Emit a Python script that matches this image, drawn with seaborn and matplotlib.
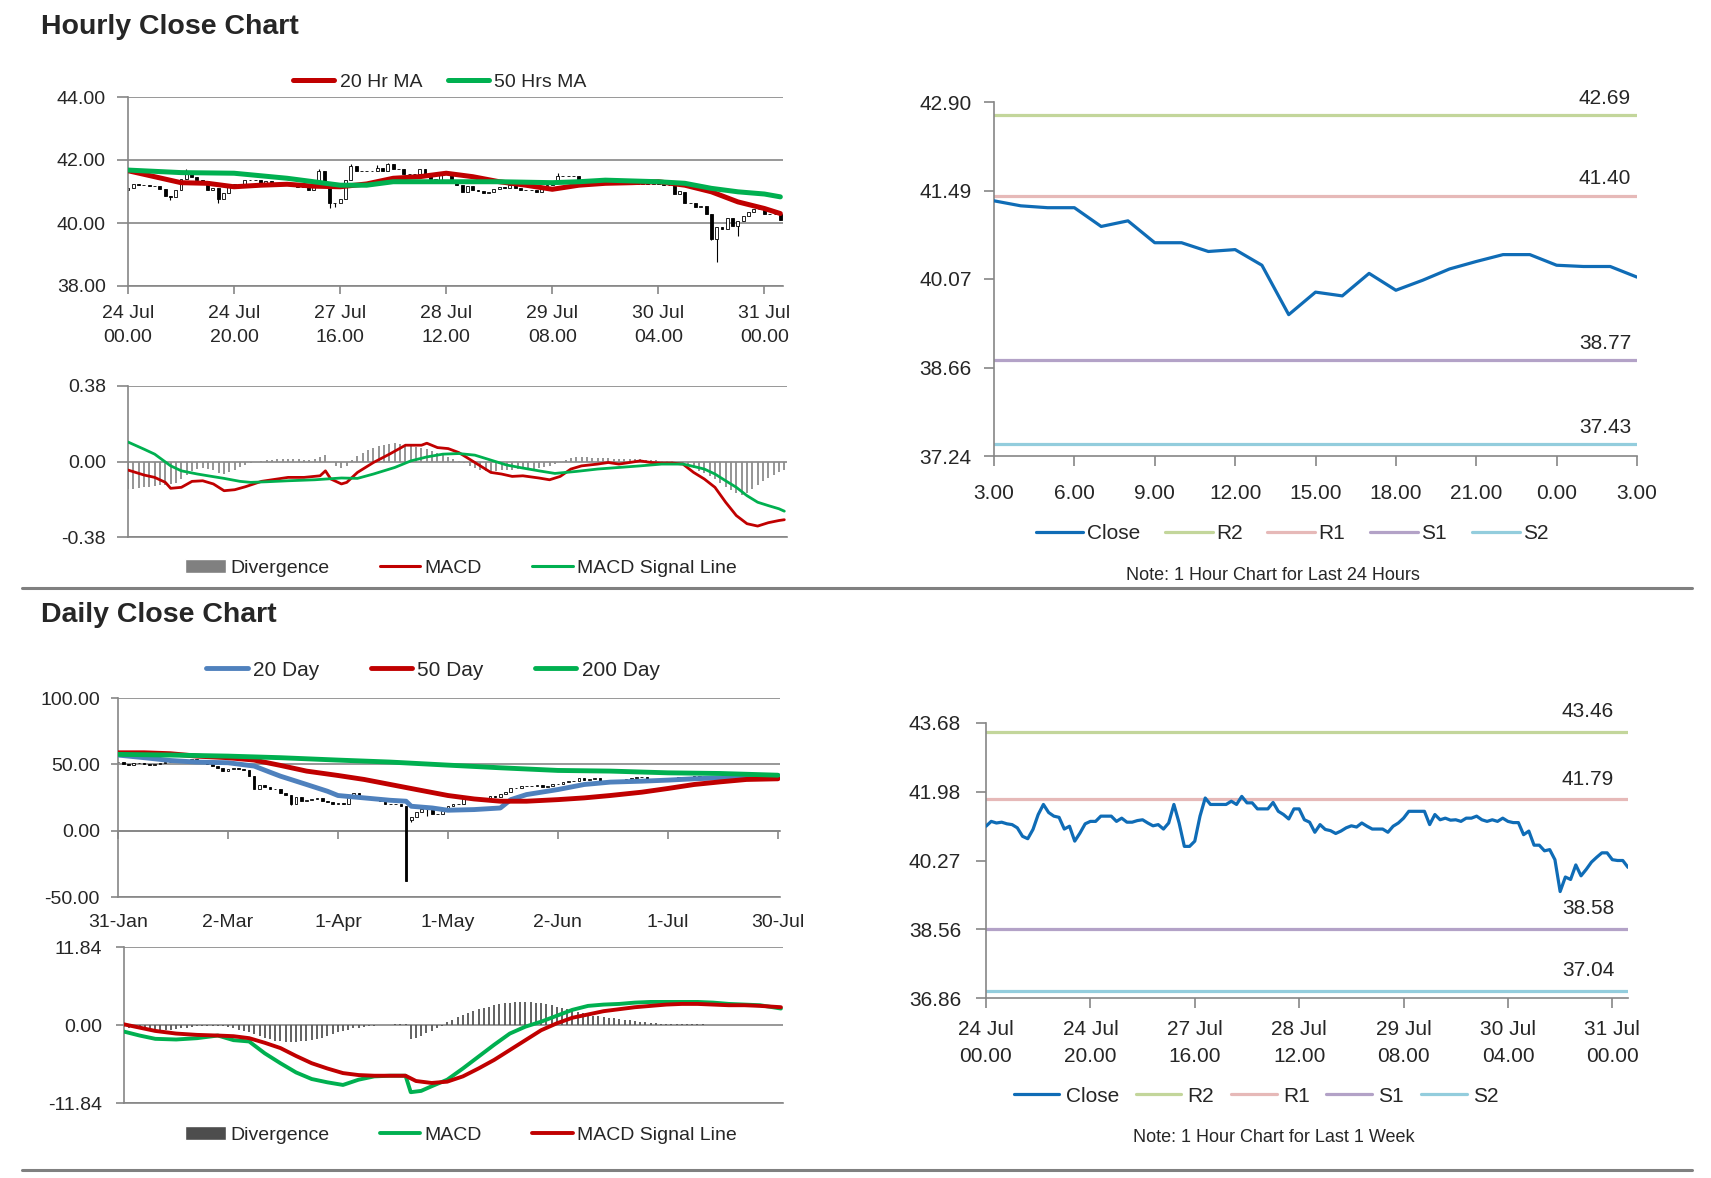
import numpy as np
import seaborn as sns
import matplotlib
matplotlib.use('Agg')
from matplotlib import pyplot as plt
from matplotlib.lines import Line2D
from matplotlib.patches import Patch

# ---- hourly data: 24 Jul 00.00 .. 31 Jul 03.00 (one point per hour, weekend skipped)
hourly_close = [
    41.12, 41.24, 41.20, 41.22, 41.18, 41.16, 41.08, 40.87, 40.81, 41.04,
    41.41, 41.66, 41.46, 41.37, 41.34, 41.05, 41.12, 40.75, 40.95, 41.18,
    41.24, 41.24, 41.37, 41.37, 41.37, 41.24, 41.32, 41.22, 41.22, 41.26,
    41.28, 41.20, 41.13, 41.16, 41.05, 41.20, 41.66, 41.20, 40.62, 40.62,
    40.75, 41.37, 41.82, 41.66, 41.66, 41.66, 41.66, 41.74, 41.66, 41.86,
    41.70, 41.70, 41.55, 41.55, 41.55, 41.71, 41.49, 41.41, 41.30, 41.55,
    41.55, 41.28, 41.22, 40.97, 41.16, 41.04, 41.01, 40.94, 41.00, 41.08,
    41.13, 41.10, 41.20, 41.12, 41.05, 41.05, 41.05, 40.97, 41.12, 41.20,
    41.32, 41.49, 41.49, 41.49, 41.49, 41.16, 41.41, 41.28, 41.32, 41.27,
    41.28, 41.24, 41.32, 41.32, 41.37, 41.28, 41.24, 41.28, 41.24,
    41.32, 41.24, 41.21, 41.21, 40.91, 41.00, 40.65, 40.65, 40.51, 40.54,
    40.29, 39.50, 39.86, 39.80, 40.16, 39.89, 40.05, 40.23, 40.35, 40.46,
    40.46, 40.29, 40.27, 40.27, 40.10]
hourly_first_open = 41.05
hourly_low_wicks = {8: 40.72, 17: 40.62, 38: 40.47, 39: 40.50, 110: 39.45, 111: 38.75, 115: 39.60}
hourly_high_wicks = {11: 41.72, 36: 41.72, 42: 41.86, 47: 41.85, 49: 41.92, 81: 41.58}
hourly_ticks = [0, 20, 40, 60, 80, 100, 120]
hourly_tick_labels = ['24 Jul\n00.00', '24 Jul\n20.00', '27 Jul\n16.00', '28 Jul\n12.00',
                      '29 Jul\n08.00', '30 Jul\n04.00', '31 Jul\n00.00']

ma20_hr_x = [0, 5, 10, 15, 20, 25, 30, 35, 40, 45, 50, 55, 60, 65, 70, 75, 80, 85, 90, 95,
             100, 105, 110, 115, 120, 123]
ma20_hr = [41.66, 41.47, 41.28, 41.26, 41.15, 41.20, 41.23, 41.17, 41.15, 41.24, 41.42, 41.47,
           41.58, 41.47, 41.31, 41.20, 41.07, 41.20, 41.26, 41.28, 41.31, 41.20, 40.99, 40.67,
           40.46, 40.30]
ma50_hr_x = [0, 10, 20, 30, 40, 45, 50, 60, 70, 80, 85, 90, 100, 105, 110, 115, 120, 123]
ma50_hr = [41.68, 41.60, 41.58, 41.42, 41.20, 41.20, 41.31, 41.31, 41.31, 41.28, 41.31, 41.36,
           41.31, 41.26, 41.10, 40.99, 40.92, 40.83]

macd_hr_x = [0, 3, 5, 7, 8, 10, 12, 14, 16, 18, 20, 22, 25, 28, 30, 33, 36, 37, 38, 40, 41, 43,
             46, 49, 52, 55, 56, 58, 60, 62, 65, 68, 70, 72, 74, 77, 79, 81, 83, 85, 88, 90, 92,
             94, 96, 98, 100, 102, 104, 106, 108, 110, 112, 114, 116, 118, 120, 122, 123]
macd_hr = [-0.043, -0.068, -0.08, -0.105, -0.135, -0.13, -0.10, -0.097, -0.113, -0.147,
           -0.142, -0.127, -0.10, -0.088, -0.08, -0.08, -0.072, -0.047, -0.088, -0.113,
           -0.105, -0.055, -0.005, 0.037, 0.082, 0.082, 0.092, 0.07, 0.065, 0.045,
           -0.005, -0.055, -0.063, -0.075, -0.072, -0.083, -0.092, -0.075, -0.038, -0.022,
           -0.013, -0.005, -0.013, -0.005, 0.003, -0.005, -0.008, -0.008, -0.013, -0.055,
           -0.088, -0.13, -0.205, -0.272, -0.313, -0.325, -0.308, -0.297, -0.293]
signal_hr_x = [0, 3, 5, 8, 10, 13, 15, 18, 21, 23, 26, 30, 35, 40, 43, 46, 50, 53, 56, 59, 62,
               65, 68, 71, 74, 77, 80, 84, 88, 92, 96, 100, 104, 106, 108, 110, 112, 114, 116,
               118, 120, 122, 123]
signal_hr = [0.098, 0.062, 0.037, -0.022, -0.047, -0.063, -0.072, -0.085, -0.10, -0.105,
             -0.102, -0.097, -0.092, -0.083, -0.085, -0.063, -0.03, 0.003, 0.023, 0.037,
             0.04, 0.032, 0.007, -0.018, -0.033, -0.047, -0.06, -0.05, -0.038, -0.03,
             -0.022, -0.013, -0.013, -0.025, -0.038, -0.063, -0.097, -0.13, -0.172, -0.205,
             -0.222, -0.238, -0.25]
div_hr = [
    -0.14, -0.14, -0.135, -0.13, -0.13, -0.125, -0.12, -0.12, -0.115, -0.11,
    -0.09, -0.07, -0.05, -0.04, -0.035, -0.04, -0.045, -0.06, -0.065, -0.055,
    -0.045, -0.03, -0.02, -0.01, 0.0, 0.005, 0.01, 0.01, 0.012, 0.012,
    0.015, 0.015, 0.012, 0.01, 0.01, 0.015, 0.025, 0.035, 0.0, -0.025,
    -0.035, -0.025, 0.01, 0.03, 0.045, 0.06, 0.07, 0.08, 0.085, 0.09,
    0.095, 0.09, 0.085, 0.08, 0.075, 0.07, 0.065, 0.055, 0.045, 0.035,
    0.025, 0.015, 0.005, -0.01, -0.025, -0.035, -0.045, -0.05, -0.055, -0.05,
    -0.045, -0.045, -0.045, -0.04, -0.04, -0.04, -0.04, -0.035, -0.03, -0.025,
    -0.015, 0.0, 0.01, 0.02, 0.025, 0.025, 0.025, 0.02, 0.02, 0.02,
    0.02, 0.015, 0.015, 0.015, 0.015, 0.015, 0.015, 0.01, 0.01, 0.01,
    0.005, 0.005, 0.005, 0.0, -0.01, -0.02, -0.035, -0.05, -0.06, -0.075,
    -0.09, -0.11, -0.13, -0.145, -0.16, -0.17, -0.16, -0.14, -0.12, -0.10,
    -0.085, -0.07, -0.055, -0.045]

# ---- last 24 hours (30 Jul 03.00 .. 31 Jul 03.00) and pivot levels
day_tick_labels = ['3.00', '6.00', '9.00', '12.00', '15.00', '18.00', '21.00', '0.00', '3.00']
level_names = ['R2', 'R1', 'S1', 'S2']
levels_24h = [42.69, 41.40, 38.77, 37.43]
levels_week = [43.46, 41.79, 38.58, 37.04]
yticks_24h = ['37.24', '38.66', '40.07', '41.49', '42.90']
yticks_week = ['36.86', '38.56', '40.27', '41.98', '43.68']

# ---- daily data: 31 Jan .. 30 Jul
daily_close = [
    51.6, 50.1, 49.6, 50.8, 50.9, 50.3, 49.6, 50.0, 51.2, 51.4, 52.1, 52.1, 52.1, 53.3, 53.8,
    53.4, 51.4, 49.9, 48.7, 47.1, 45.3,
    46.8, 47.2, 46.8, 45.9, 41.3, 31.1, 34.4, 33.0, 31.5, 31.7, 28.7, 27.0, 20.4, 25.2, 22.4,
    23.4, 24.0, 24.5, 22.6, 21.5, 20.1, 20.5,
    20.3, 25.3, 28.3, 26.1, 23.6, 25.1, 22.8, 22.4, 20.1, 19.9, 19.9, 18.3, -37.6, 10.0, 13.8,
    16.5, 17.0, 12.8, 12.3, 15.1, 18.8,
    19.8, 20.4, 24.6, 24.0, 24.0, 24.7, 24.1, 25.8, 25.3, 27.6, 29.4, 31.8, 32.5, 33.5, 33.9,
    33.3, 34.4, 32.8, 33.7, 35.5,
    35.4, 36.8, 37.3, 37.4, 39.6, 38.2, 38.9, 39.6, 36.3, 36.3, 37.1, 38.4, 38.0, 38.8, 39.8,
    40.5, 40.4, 38.0, 38.7, 38.5, 39.7, 39.3,
    39.8, 40.7, 40.6, 40.6, 40.9, 39.6, 40.6, 40.1, 40.3, 41.0, 40.8, 40.6, 40.8, 41.9, 41.9,
    41.1, 41.3, 41.6, 41.0, 41.3, 39.9]
daily_first_open = 52.0
daily_open_fix = {56: 8.0}
daily_low_wicks = {56: 6.5, 59: 11.0, 33: 19.5}
daily_high_wicks = {}
daily_ticks = [0, 21, 42, 63, 84, 105, 126]
daily_tick_labels = ['31-Jan', '2-Mar', '1-Apr', '1-May', '2-Jun', '1-Jul', '30-Jul']

ma20_day_x = [0, 5, 10, 15, 21, 26, 29, 31, 36, 40, 42, 47, 52, 55, 56, 60, 63, 68, 73, 75, 78,
              84, 89, 94, 100, 105, 110, 115, 120, 126]
ma20_day = [57.0, 55.0, 52.9, 51.7, 51.2, 48.7, 44.1, 41.1, 34.8, 29.7, 26.5, 24.7, 22.9, 22.2,
            18.4, 17.1, 15.4, 15.9, 17.1, 23.4, 27.2, 31.0, 34.8, 36.6, 37.3, 38.1, 39.1, 39.8,
            41.1, 41.6]
ma50_day_x = [0, 5, 10, 15, 21, 26, 31, 36, 42, 47, 52, 57, 63, 68, 73, 78, 84, 89, 94, 100,
              105, 110, 115, 120, 126]
ma50_day = [58.7, 58.7, 58.0, 56.2, 55.0, 53.2, 49.2, 44.9, 41.6, 38.6, 34.8, 31.0, 26.5, 23.9,
            22.2, 22.2, 23.4, 24.7, 26.5, 29.0, 31.8, 34.8, 36.8, 38.6, 39.1]
ma200_day_x = [0, 10, 21, 31, 42, 52, 63, 73, 84, 94, 105, 115, 126]
ma200_day = [57.5, 57.0, 56.2, 55.0, 53.2, 51.7, 49.4, 47.4, 45.4, 44.9, 43.6, 43.1, 41.8]

macd_day_x = [0, 3, 6, 10, 14, 18, 21, 24, 27, 30, 33, 36, 39, 42, 45, 48, 51, 54, 55, 57, 59,
              62, 65, 68, 71, 74, 77, 80, 83, 86, 89, 92, 95, 98, 101, 104, 107, 110, 113, 116,
              119, 122, 126]
macd_day = [-1.0, -1.6, -2.1, -2.2, -2.0, -1.6, -2.3, -2.5, -4.3, -5.8, -7.2, -8.2, -8.7, -9.1,
            -8.3, -7.8, -7.7, -7.7, -10.2, -10.0, -9.3, -8.3, -6.6, -4.8, -3.0, -1.3, -0.25,
            0.5, 1.4, 2.3, 2.9, 3.1, 3.2, 3.4, 3.5, 3.5, 3.5, 3.5, 3.4, 3.2, 3.1, 3.0, 2.5]
signal_day_x = [0, 3, 6, 10, 14, 18, 21, 24, 27, 30, 33, 36, 39, 42, 45, 48, 51, 54, 56, 59, 62,
                65, 68, 71, 74, 77, 80, 83, 86, 89, 92, 95, 98, 101, 104, 107, 110, 113, 116,
                119, 122, 126]
signal_day = [0.1, -0.4, -0.9, -1.3, -1.5, -1.6, -1.7, -2.0, -2.7, -3.5, -4.7, -5.8, -6.6, -7.3,
              -7.6, -7.7, -7.7, -7.7, -8.5, -8.8, -8.6, -7.8, -6.6, -5.3, -3.8, -2.3, -0.8,
              0.25, 1.1, 1.6, 2.1, 2.4, 2.7, 2.9, 3.1, 3.2, 3.2, 3.1, 3.0, 3.0, 2.9, 2.7]
div_day = [
    -0.3, -0.4, -0.5, -0.6, -0.7, -0.8, -0.8, -0.8, -0.8, -0.7,
    -0.6, -0.5, -0.4, -0.3, -0.2, -0.1, -0.1, -0.1, -0.1, -0.2,
    -0.3, -0.5, -0.7, -0.9, -1.1, -1.4, -1.7, -2.0, -2.2, -2.4,
    -2.5, -2.6, -2.6, -2.6, -2.5, -2.4, -2.3, -2.1, -1.9, -1.6,
    -1.4, -1.1, -0.9, -0.7, -0.5, -0.4, -0.3, -0.2, -0.1, -0.05,
    0.0, 0.05, 0.1, 0.15, 0.2, -2.2, -1.9, -1.6, -1.2, -0.9,
    -0.5, -0.2, 0.4, 0.8, 1.2, 1.5, 1.8, 2.1, 2.4, 2.6,
    2.8, 3.0, 3.2, 3.3, 3.4, 3.5, 3.5, 3.5, 3.5, 3.4,
    3.3, 3.2, 3.0, 2.8, 2.6, 2.4, 2.2, 2.0, 1.8, 1.6,
    1.4, 1.3, 1.2, 1.1, 1.0, 0.9, 0.8, 0.7, 0.6, 0.5,
    0.4, 0.3, 0.3, 0.2, 0.2, 0.2, 0.15, 0.1, 0.1, 0.1,
    0.1, 0.1, 0.05, 0.05, 0.0, -0.05, -0.05, -0.05, -0.05, -0.05,
    -0.05, -0.05, -0.05, -0.05, -0.05, -0.05, -0.05]

RED = '#C00000'
GREEN = '#00B050'
BLUE20 = '#4F81BD'
CLOSE = '#0F6CB6'
LEVEL_COLORS = ['#C3D69B', '#E6B9B8', '#B3A2C7', '#93CDDD']
GRID = '#868686'
W, H = 1711, 1178

sns.set_theme(style='white')
plt.rcParams['font.family'] = ['Liberation Sans', 'DejaVu Sans']
plt.rcParams['axes.unicode_minus'] = False

fig = plt.figure(figsize=(W / 100, H / 100), dpi=100)


def add_ax(l, t, r, b):
    return fig.add_axes([l / W, 1 - b / H, (r - l) / W, (b - t) / H])


def base_style(ax, grid):
    for s in ['top', 'right']:
        ax.spines[s].set_visible(False)
    for s in ['left', 'bottom']:
        ax.spines[s].set_color(GRID)
        ax.spines[s].set_linewidth(1.2)
    if grid:
        ax.grid(axis='y', color=GRID, lw=1.2)
        ax.grid(axis='x', visible=False)
    ax.set_axisbelow(True)
    ax.set_facecolor('white')


def candles(ax, close, first_open, open_fix, low_fix, high_fix, width):
    close = np.asarray(close, float)
    opens = np.r_[first_open, close[:-1]]
    for k, v in open_fix.items():
        opens[k] = v
    lo = np.minimum(opens, close)
    hi = np.maximum(opens, close)
    for k, v in low_fix.items():
        lo[k] = v
    for k, v in high_fix.items():
        hi[k] = v
    x = np.arange(len(close))
    ax.vlines(x, lo, hi, color='black', lw=0.8, zorder=2)
    up = close >= opens
    ax.bar(x, close - opens, bottom=opens, width=width,
           color=np.where(up, 'white', 'black'), edgecolor='black', linewidth=0.6, zorder=2)


def line(ax, x, y, color, lw):
    sns.lineplot(x=x, y=y, ax=ax, color=color, lw=lw, legend=False, zorder=3)


def legend(handles, labels, cx, cy, fs, hl, tp, cs):
    fig.legend(handles, labels, loc='center', bbox_to_anchor=(cx / W, 1 - cy / H),
               ncol=len(handles), frameon=False, fontsize=fs, handlelength=hl,
               handletextpad=tp, columnspacing=cs, borderaxespad=0, borderpad=0)


# ---------------- hourly candles with MAs
ax1 = add_ax(128, 97, 783, 286)
base_style(ax1, True)
candles(ax1, hourly_close, hourly_first_open, {}, hourly_low_wicks, hourly_high_wicks, 0.55)
line(ax1, ma20_hr_x, ma20_hr, RED, 3.6)
line(ax1, ma50_hr_x, ma50_hr, GREEN, 3.6)
ax1.set_xlim(0, 123.5)
ax1.set_ylim(38, 44)
ax1.set_yticks([38, 40, 42, 44], [f'{t:.2f}' for t in [38, 40, 42, 44]])
ax1.set_xticks(hourly_ticks, hourly_tick_labels, linespacing=1.5)
ax1.tick_params(axis='y', length=8, width=1.2, color=GRID, pad=8, labelsize=14, left=True)
ax1.tick_params(axis='x', length=6, width=1.2, color=GRID, pad=8, labelsize=14, bottom=True)
ax1.set_xlabel('')
ax1.set_ylabel('')
legend([Line2D([], [], color=RED, lw=3.6), Line2D([], [], color=GREEN, lw=3.6)],
       ['20 Hr MA', '50 Hrs MA'], 440, 82, 14, 2.1, 0.3, 1.3)

# ---------------- hourly MACD
ax2 = add_ax(128, 386, 787, 537)
base_style(ax2, True)
ax2.vlines(np.arange(len(div_hr)), 0, div_hr, color='#8C8C8C', lw=1.3, zorder=2)
line(ax2, macd_hr_x, macd_hr, RED, 2.0)
line(ax2, signal_hr_x, signal_hr, GREEN, 2.0)
ax2.set_xlim(0, 123.5)
ax2.set_ylim(-0.38, 0.38)
ax2.set_yticks([-0.38, 0, 0.38], ['-0.38', '0.00', '0.38'])
ax2.set_xticks([])
ax2.tick_params(axis='y', length=8, width=1.2, color=GRID, pad=8, labelsize=14, left=True)
ax2.set_xlabel('')
ax2.set_ylabel('')
legend([Patch(facecolor='#808080'), Line2D([], [], color=RED, lw=2.2),
        Line2D([], [], color=GREEN, lw=2.2)],
       ['Divergence', 'MACD', 'MACD Signal Line'], 461, 568, 14, 2.1, 0.2, 2.6)

# ---------------- last 24 hours
ax3 = add_ax(994, 102, 1637, 456)
base_style(ax3, False)
last24 = hourly_close[-25:]
line(ax3, np.arange(len(last24)), last24, CLOSE, 2.3)
for v, c in zip(levels_24h, LEVEL_COLORS):
    ax3.axhline(v, color=c, lw=2.3, zorder=2)
    ax3.annotate(f'{v:.2f}', xy=(1, v), xycoords=('axes fraction', 'data'), xytext=(-32, 17),
                 textcoords='offset pixels', ha='center', va='center', fontsize=15)
ax3.set_xlim(0, 24)
ax3.set_ylim(37.24, 42.90)
ax3.set_yticks(np.linspace(37.24, 42.90, 5), yticks_24h)
ax3.set_xticks(np.arange(0, 25, 3), day_tick_labels)
ax3.tick_params(axis='both', length=7, width=1.2, color=GRID, labelsize=15, left=True, bottom=True)
ax3.tick_params(axis='y', pad=9)
ax3.tick_params(axis='x', pad=13)
ax3.set_xlabel('')
ax3.set_ylabel('')
legend([Line2D([], [], color=CLOSE, lw=2.3)] + [Line2D([], [], color=c, lw=2.3) for c in LEVEL_COLORS],
       ['Close'] + level_names, 1292, 534, 15, 2.3, 0.15, 1.2)
fig.text(1273 / W, 1 - 575 / H, 'Note: 1 Hour Chart for Last 24 Hours', ha='center', va='center',
         fontsize=13)

# ---------------- daily candles with MAs
ax4 = add_ax(118, 698, 780, 897)
base_style(ax4, True)
candles(ax4, daily_close, daily_first_open, daily_open_fix, daily_low_wicks, daily_high_wicks, 0.5)
line(ax4, ma20_day_x, ma20_day, BLUE20, 3.5)
line(ax4, ma50_day_x, ma50_day, RED, 3.5)
line(ax4, ma200_day_x, ma200_day, GREEN, 3.5)
ax4.set_xlim(0, 126.4)
ax4.set_ylim(-50, 100)
ax4.set_yticks([-50, 0, 50, 100], [f'{t:.2f}' for t in [-50, 0, 50, 100]])
ax4.set_xticks(daily_ticks, daily_tick_labels)
ax4.tick_params(axis='y', length=5, width=1.2, color=GRID, pad=8, labelsize=14, left=True)
ax4.tick_params(axis='x', length=0, pad=12, labelsize=14)
zero_axis = ax4.secondary_xaxis(1 / 3)
zero_axis.set_xticks(daily_ticks, [''] * len(daily_ticks))
zero_axis.tick_params(length=6, width=1.2, color=GRID, direction='out')
zero_axis.spines['bottom'].set_color(GRID)
zero_axis.spines['bottom'].set_linewidth(1.2)
ax4.set_xlabel('')
ax4.set_ylabel('')
legend([Line2D([], [], color=BLUE20, lw=3.5), Line2D([], [], color=RED, lw=3.5),
        Line2D([], [], color=GREEN, lw=3.5)],
       ['20 Day', '50 Day', '200 Day'], 433, 670, 15, 2.0, 0.25, 2.45)

# ---------------- daily MACD
ax5 = add_ax(124, 947, 783, 1103)
base_style(ax5, True)
ax5.vlines(np.arange(len(div_day)), 0, div_day, color='#555555', lw=1.3, zorder=2)
line(ax5, macd_day_x, macd_day, GREEN, 2.8)
line(ax5, signal_day_x, signal_day, RED, 2.8)
ax5.set_xlim(0, 126.4)
ax5.set_ylim(-11.84, 11.84)
ax5.set_yticks([-11.84, 0, 11.84], ['-11.84', '0.00', '11.84'])
ax5.set_xticks([])
ax5.tick_params(axis='y', length=6, width=1.2, color=GRID, pad=10, labelsize=14, left=True)
ax5.set_xlabel('')
ax5.set_ylabel('')
legend([Patch(facecolor='#4D4D4D'), Line2D([], [], color=GREEN, lw=2.8),
        Line2D([], [], color=RED, lw=2.8)],
       ['Divergence', 'MACD', 'MACD Signal Line'], 461, 1135, 14, 2.1, 0.2, 2.6)

# ---------------- last week hourly close
ax6 = add_ax(986, 723, 1628, 998)
base_style(ax6, False)
line(ax6, np.arange(len(hourly_close)), hourly_close, CLOSE, 2.3)
for v, c in zip(levels_week, LEVEL_COLORS):
    ax6.axhline(v, color=c, lw=2.3, zorder=2)
    ax6.annotate(f'{v:.2f}', xy=(1, v), xycoords=('axes fraction', 'data'), xytext=(-40, 20),
                 textcoords='offset pixels', ha='center', va='center', fontsize=15)
ax6.set_xlim(0, 123)
ax6.set_ylim(36.86, 43.68)
ax6.set_yticks(np.linspace(36.86, 43.68, 5), yticks_week)
ax6.set_xticks(hourly_ticks, hourly_tick_labels, linespacing=1.5)
ax6.tick_params(axis='both', length=7, width=1.2, color=GRID, labelsize=15, left=True, bottom=True)
ax6.tick_params(axis='y', pad=11)
ax6.tick_params(axis='x', pad=9)
ax6.set_xlabel('')
ax6.set_ylabel('')
legend([Line2D([], [], color=CLOSE, lw=2.3)] + [Line2D([], [], color=c, lw=2.3) for c in LEVEL_COLORS],
       ['Close'] + level_names, 1256, 1096, 15, 2.2, 0.3, 0.8)
fig.text(1274 / W, 1 - 1138 / H, 'Note: 1 Hour Chart for Last 1 Week', ha='center', va='center',
         fontsize=13)

# ---------------- titles and separators
fig.text(41 / W, 1 - 27 / H, 'Hourly Close Chart', fontsize=20.5, fontweight='bold', va='center')
fig.text(41 / W, 1 - 615 / H, 'Daily Close Chart', fontsize=20.5, fontweight='bold', va='center')
for y in [588, 1170]:
    fig.add_artist(Line2D([22 / W, 1692 / W], [1 - y / H, 1 - y / H], color='#808080', lw=2.2))

fig.savefig('out.png', dpi=100, facecolor='white')
